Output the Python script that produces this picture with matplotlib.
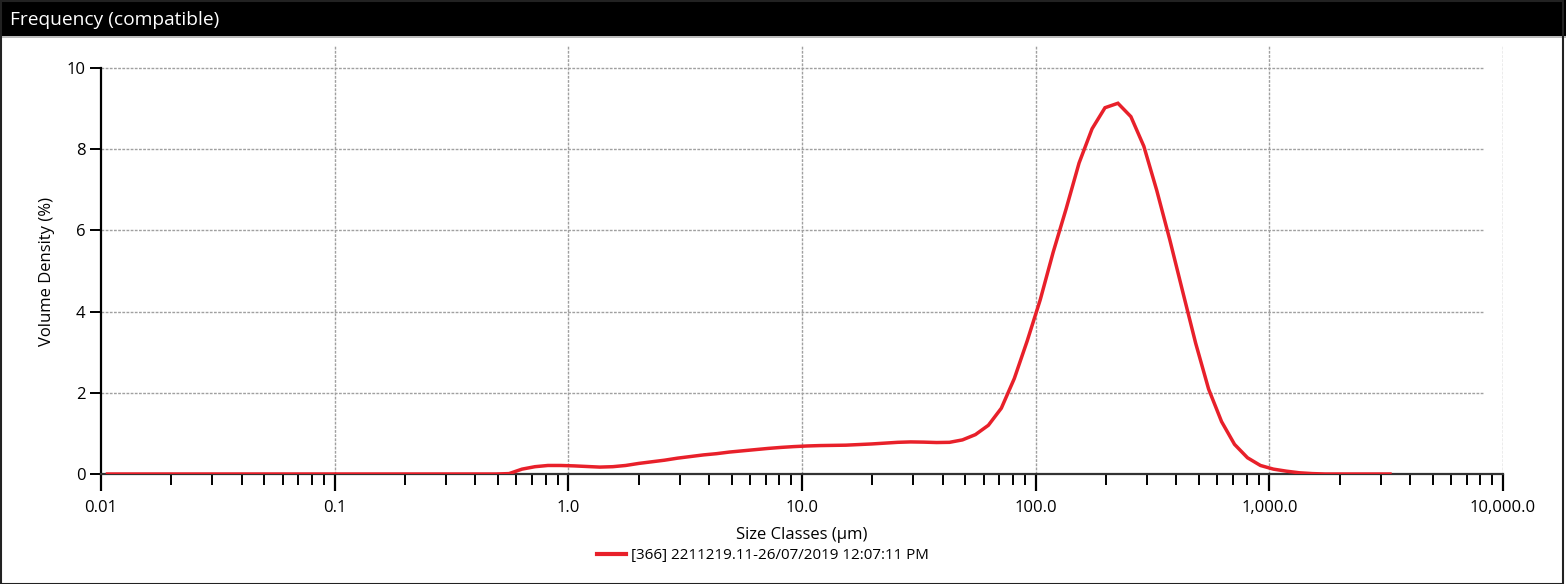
import matplotlib
matplotlib.use("Agg")
import matplotlib.pyplot as plt
from matplotlib.patches import Rectangle
from matplotlib.ticker import FixedLocator, NullFormatter

plt.rcParams['font.family'] = ['Open Sans', 'DejaVu Sans']

# Size class centres (um) and volume density (%)
sizes = [0.01066, 0.01211, 0.01376, 0.01563, 0.01776, 0.02018, 0.02293, 0.02605, 0.02960, 0.03363,
         0.03821, 0.04341, 0.04932, 0.05604, 0.06367, 0.07234, 0.08219, 0.09338, 0.1061, 0.1205,
         0.1369, 0.1556, 0.1768, 0.2008, 0.2282, 0.2593, 0.2946, 0.3347, 0.3803, 0.4321,
         0.4909, 0.5577, 0.6337, 0.7200, 0.8180, 0.9293, 1.056, 1.200, 1.363, 1.549,
         1.760, 1.999, 2.271, 2.581, 2.932, 3.331, 3.785, 4.300, 4.886, 5.551,
         6.306, 7.165, 8.140, 9.249, 10.51, 11.94, 13.56, 15.41, 17.51, 19.89,
         22.60, 25.68, 29.17, 33.14, 37.66, 42.78, 48.61, 55.23, 62.75, 71.29,
         81.00, 92.03, 104.6, 118.8, 135.0, 153.4, 174.3, 198.0, 224.9, 255.6,
         290.4, 329.9, 374.9, 425.9, 483.9, 549.8, 624.6, 709.6, 806.3, 916.1,
         1041, 1182, 1344, 1527, 1734, 1970, 2239, 2544, 2890, 3283]
density = [0.0, 0.0, 0.0, 0.0, 0.0, 0.0, 0.0, 0.0, 0.0, 0.0,
           0.0, 0.0, 0.0, 0.0, 0.0, 0.0, 0.0, 0.0, 0.0, 0.0,
           0.0, 0.0, 0.0, 0.0, 0.0, 0.0, 0.0, 0.0, 0.0, 0.0,
           0.0, 0.01, 0.12, 0.18, 0.21, 0.21, 0.20, 0.185, 0.17, 0.18,
           0.21, 0.26, 0.30, 0.34, 0.39, 0.43, 0.47, 0.50, 0.54, 0.57,
           0.60, 0.63, 0.655, 0.675, 0.69, 0.70, 0.705, 0.71, 0.725, 0.74,
           0.76, 0.78, 0.79, 0.785, 0.775, 0.78, 0.84, 0.97, 1.20, 1.62,
           2.35, 3.28, 4.29, 5.46, 6.53, 7.66, 8.50, 9.02, 9.13, 8.80,
           8.07, 6.98, 5.77, 4.49, 3.22, 2.09, 1.29, 0.73, 0.40, 0.21,
           0.12, 0.07, 0.03, 0.01, 0.0, 0.0, 0.0, 0.0, 0.0, 0.0]

x_major = [0.01, 0.1, 1.0, 10.0, 100.0, 1000.0, 10000.0]
x_labels = ["0.01", "0.1", "1.0", "10.0", "100.0", "1,000.0", "10,000.0"]
y_major = [0, 2, 4, 6, 8, 10]

title = "Frequency (compatible)"
legend_label = "[366] 2211219.11-26/07/2019 12:07:11 PM"
red = "#E8202A"

fig = plt.figure(figsize=(15.66, 5.84), dpi=100)
fig.patch.set_facecolor("white")

# title bar
fig.patches.append(Rectangle((0, 1 - 36 / 584), 1, 36 / 584, transform=fig.transFigure,
                             facecolor="black", edgecolor="none", zorder=0))
fig.patches.append(Rectangle((0, 1 - 38 / 584), 1, 2 / 584, transform=fig.transFigure,
                             facecolor="#bbbbbb", edgecolor="none", zorder=0))
fig.patches.append(Rectangle((0.5 / 1566, 0.5 / 584), 1 - 4 / 1566, 1 - 1 / 584,
                             transform=fig.transFigure, facecolor="none",
                             edgecolor="#222222", linewidth=1.5, zorder=0))
fig.text(10 / 1566, 1 - 20 / 584, title, color="white", fontsize=13.8,
         va="center", ha="left")

ax = fig.add_axes([101 / 1566, 110 / 584, 1402 / 1566, 428 / 584])
ax.set_xscale("log")
ax.set_xlim(0.01, 10000)
ax.set_ylim(0, 10.54)

for s in ["top", "right"]:
    ax.spines[s].set_visible(False)
ax.spines["left"].set_bounds(0, 10)
ax.spines["left"].set_linewidth(1.6)
ax.spines["bottom"].set_linewidth(1.6)
ax.spines["bottom"].set_color("#333333")

# grid
for yv in y_major[1:]:
    ax.axhline(yv, xmin=0, xmax=0.9857, color="#a0a0a0", linewidth=1.0,
               linestyle=(0, (2, 1)), zorder=1)
for xv in x_major[1:]:
    ax.axvline(xv, color="#a0a0a0", linewidth=1.0, linestyle=(0, (2, 1)), zorder=1)

ax.plot(sizes, density, color=red, linewidth=2.5, zorder=3, label=legend_label,
        solid_joinstyle="miter")

ax.xaxis.set_major_locator(FixedLocator(x_major))
ax.set_xticklabels(x_labels)
minor = [m * 10 ** e for e in range(-2, 4) for m in range(2, 10)]
ax.xaxis.set_minor_locator(FixedLocator(minor))
ax.xaxis.set_minor_formatter(NullFormatter())
ax.set_yticks(y_major)
ax.set_yticklabels([str(v) for v in y_major])

ax.tick_params(axis="x", which="major", length=12, width=1.6, labelsize=12,
               pad=7, direction="out")
ax.tick_params(axis="x", which="minor", length=8, width=1.4, direction="out")
ax.tick_params(axis="y", which="major", length=8, width=1.4, labelsize=12,
               pad=3, direction="out")

ax.set_xlabel("Size Classes (µm)", fontsize=12)
ax.xaxis.set_label_coords(0.5, -(535 - 474) / 428, transform=ax.transAxes)
ax.xaxis.label.set_va("center")
ax.set_ylabel("Volume Density (%)", fontsize=12)
ax.yaxis.set_label_coords(-(101 - 47) / 1402, (474 - 272) / 428, transform=ax.transAxes)
ax.yaxis.label.set_va("center")

leg = fig.legend(loc="center", bbox_to_anchor=(763 / 1566, 1 - 556 / 584),
                 frameon=False, fontsize=10.9, handlelength=1.9, handletextpad=0.35)
for line in leg.get_lines():
    line.set_linewidth(3)

fig.savefig("out.png", dpi=100)
